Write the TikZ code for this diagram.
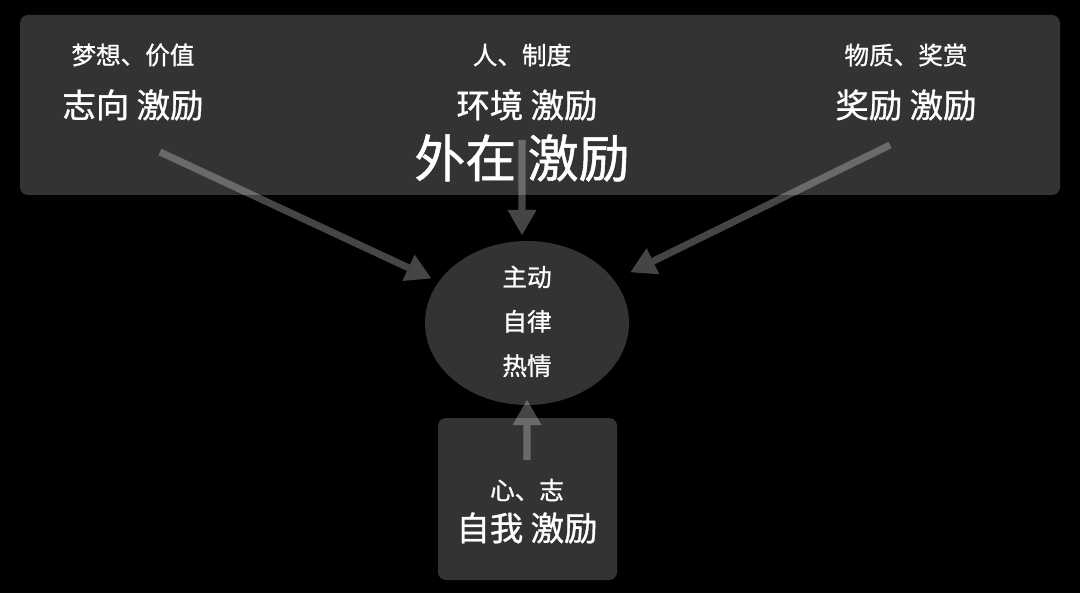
\documentclass[tikz,border=0pt]{standalone}
\usepackage{fontspec}
\setmainfont{Noto Sans CJK SC}[FakeBold=1]
\usepackage{tikz}
\usetikzlibrary{positioning,arrows.meta,shapes.geometric}
\definecolor{panel}{RGB}{51,51,51}

\begin{document}
\begin{tikzpicture}[>={Triangle[length=5mm,width=5.8mm,line width=0pt]},
  panelbox/.style={fill=panel,rounded corners=1.6mm,inner sep=0pt},
  core/.style={ellipse,fill=panel,minimum width=4.08cm,minimum height=3.28cm,inner sep=0pt},
  small/.style={text=white,font=\fontsize{14}{16}\selectfont,inner sep=0pt},
  big/.style={text=white,font=\fontsize{19}{22}\selectfont,inner sep=0pt},
  huge/.style={text=white,font=\fontsize{29}{33}\selectfont,inner sep=0pt},
  flow/.style={->,draw=white,fill=white,line width=4pt},
  ghost/.style={transparency group,opacity=.27}]
  \fill[black] (0,0) rectangle (21.6,11.86);
  % outer panel
  \node[panelbox,minimum width=20.8cm,minimum height=3.6cm] (outer) at (10.8,9.76) {};
  \node[small] (goalq) at (2.66,10.76) {梦想、价值};
  \node[big] (goal) at (2.66,9.76) {志向 激励};
  \node[small] (envq) at (10.44,10.76) {人、制度};
  \node[big] (env) at (10.54,9.76) {环境 激励};
  \node[small] (rewq) at (18.12,10.76) {物质、奖赏};
  \node[big] (rew) at (18.12,9.76) {奖励 激励};
  % centre
  \node[core] (core) at (10.54,5.40) {};
  \node[small] (drive) at (10.54,6.32) {主动};
  \node[small,below=0.42cm of drive] (disc) {自律};
  \node[small,below=0.42cm of disc] (zeal) {热情};
  % self box
  \node[panelbox,minimum width=3.58cm,minimum height=3.24cm] (self) at (10.55,1.88) {};
  \node[small] (selfq) at (10.54,2.06) {心、志};
  \node[big] (selfm) at (10.54,1.30) {自我 激励};
  \coordinate (srcL) at (3.2,8.82);
  \coordinate (srcM) at (10.44,9.06);
  \coordinate (srcR) at (17.8,8.96);
  \coordinate (srcS) at (10.54,2.66);
  \begin{scope}[ghost]
    \draw[flow,shorten >=1.6mm] (srcL) -- (core);
  \end{scope}
  \begin{scope}[ghost]
    \draw[flow] (srcM) -- (srcM |- 0,7.16);
  \end{scope}
  \begin{scope}[ghost]
    \draw[flow,shorten >=3.6mm] (srcR) -- (core);
  \end{scope}
  \begin{scope}[ghost]
    \draw[flow] (srcS) -- (srcS |- 0,3.86);
  \end{scope}
  \node[huge] (outerm) at (10.44,8.70) {外在 激励};
\end{tikzpicture}
\end{document}
